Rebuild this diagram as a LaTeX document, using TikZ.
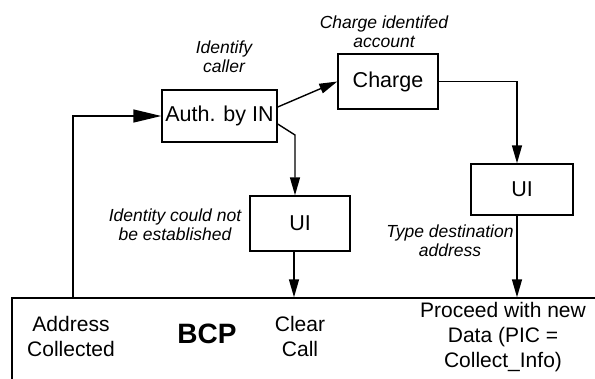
\documentclass[tikz,border=0pt]{standalone}
\usepackage{fontspec}
\setmainfont{Liberation Sans}
\usetikzlibrary{arrows.meta}
\begin{document}
\begin{tikzpicture}[x=1pt,y=-1pt,
  box/.style={draw,line width=1.4pt,inner sep=0pt,font=\fontsize{21.5}{25}\selectfont,align=center},
  lbl/.style={font=\fontsize{17.5}{19}\selectfont\itshape,align=center,inner sep=0pt},
  bcptext/.style={font=\fontsize{21}{25}\selectfont,align=center,inner sep=0pt},
  conn/.style={line width=1.4pt},
  arr/.style={conn,-{Triangle[length=18pt,width=10pt]}},
  bigarr/.style={conn,-{Triangle[length=28pt,width=13pt]}},
]
\clip (0,0) rectangle (595,378);
\node[box,minimum width=115pt,minimum height=52pt] (auth) at (219.5,116) {Auth. by IN};
\node[box,minimum width=100pt,minimum height=55pt] (charge) at (388,81.5) {Charge};
\node[box,minimum width=100pt,minimum height=55pt] (ui1) at (300,223.5) {UI};
\node[box,minimum width=102pt,minimum height=51pt] (ui2) at (522,189.5) {UI};
\node[draw,line width=1.4pt,minimum width=598pt,minimum height=97pt,inner sep=0pt] (bcp) at (311,346.5) {};

\node[lbl] (l1) at (224,57) {Identify\\caller};
\node[lbl] (l2) at (384,32) {Charge identifed\\account};
\node[lbl] (l3) at (175,225) {Identity could not\\be established};
\node[lbl] (l4) at (450,241) {Type destination\\address};

\node[bcptext] (t1) at (71,336) {Address\\Collected};
\node[font=\fontsize{28}{32}\selectfont\bfseries,inner sep=0pt] (t2) at (207,334) {BCP};
\node[bcptext] (t3) at (300,336) {Clear\\Call};
\node[bcptext] (t4) at (503,337) {Proceed with new\\Data (PIC =\\Collect\_Info)};

\coordinate (bl) at (73,298);
\coordinate (k1) at (295,135);
\draw[bigarr] (bl) |- (auth.west);
\draw[arr] ([yshift=9pt]auth.east) -- (charge.west);
\draw[arr] (charge.east) -| ([xshift=-5pt]ui2.north);
\draw[arr] ([yshift=-8pt]auth.east) -- (k1) -- ([xshift=-5pt]ui1.north);
\draw[arr] ([xshift=-6pt]ui1.south) -- ([xshift=-6pt]ui1.south |- bcp.north);
\draw[arr] ([xshift=-5pt]ui2.south) -- ([xshift=-5pt]ui2.south |- bcp.north);
\end{tikzpicture}
\end{document}
